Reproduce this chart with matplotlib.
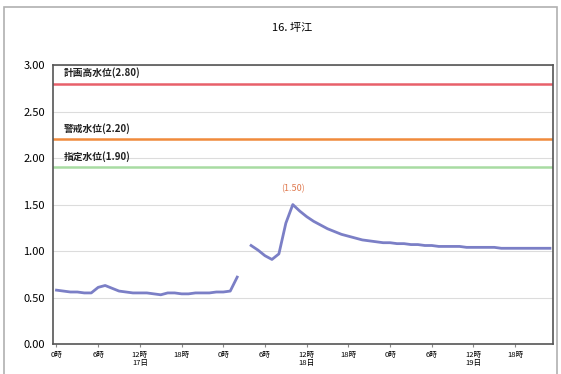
import numpy as np
import matplotlib
matplotlib.use("Agg")
import matplotlib.pyplot as plt
from matplotlib.patches import Rectangle

plt.rcParams['font.family'] = ['Noto Sans CJK JP', 'DejaVu Sans']

# 水位 (m), 1時間ごと 17日0時〜19日23時, 27時は欠測
hours = np.arange(72)
level = [0.58, 0.57, 0.56, 0.56, 0.55, 0.55, 0.61, 0.63, 0.60, 0.57, 0.56, 0.55,
         0.55, 0.55, 0.54, 0.53, 0.55, 0.55, 0.54, 0.54, 0.55, 0.55, 0.55, 0.56,
         0.56, 0.57, 0.72, np.nan, 1.06, 1.01, 0.95, 0.91, 0.97, 1.30, 1.50, 1.43,
         1.37, 1.32, 1.28, 1.24, 1.21, 1.18, 1.16, 1.14, 1.12, 1.11, 1.10, 1.09,
         1.09, 1.08, 1.08, 1.07, 1.07, 1.06, 1.06, 1.05, 1.05, 1.05, 1.05, 1.04,
         1.04, 1.04, 1.04, 1.04, 1.03, 1.03, 1.03, 1.03, 1.03, 1.03, 1.03, 1.03]

thresholds = [2.80, 2.20, 1.90]
threshold_names = ['計画高水位(2.80)', '警戒水位(2.20)', '指定水位(1.90)']
threshold_colors = ['#e8606a', '#f08a3c', '#a8dca2']

tick_pos = np.arange(0, 72, 6)
tick_labels = ['0時', '6時', '12時\n17日', '18時', '0時', '6時', '12時\n18日', '18時',
               '0時', '6時', '12時\n19日', '18時']

peak_label = '(1.50)'

fig = plt.figure(figsize=(5.61, 3.74), dpi=100)
fig.patches.append(Rectangle((0.008, -0.01), 0.984, 0.99, transform=fig.transFigure,
                             fill=False, edgecolor='#b0b0b0', linewidth=1.2))
ax = fig.add_axes([0.0945, 0.080, 0.892, 0.746])

for y in np.arange(0.5, 3.01, 0.5):
    ax.axhline(y, color='#dcdcdc', linewidth=0.8, zorder=0)

for val, name, col in zip(thresholds, threshold_names, threshold_colors):
    ax.axhline(val, color=col, linewidth=1.8, zorder=1)
    ax.text(1.0, val + 0.06, name, fontsize=7, color='#222222', va='bottom',
            fontweight='bold')

ax.plot(hours, level, color='#7b7fc6', linewidth=2, zorder=3)
i_peak = int(np.nanargmax(level))
ax.text(hours[i_peak], level[i_peak] + 0.12, peak_label, fontsize=6.5,
        color='#e07a50', ha='center', va='bottom')

ax.set_xlim(-0.5, 71.5)
ax.set_ylim(0, 3.0)
ax.set_yticks(np.arange(0, 3.01, 0.5))
ax.set_yticklabels([f'{v:.2f}' for v in np.arange(0, 3.01, 0.5)], fontsize=8)
ax.set_xticks(tick_pos)
ax.set_xticklabels(tick_labels, fontsize=5.5, linespacing=1.0)
ax.tick_params(axis='y', length=0, pad=6)
ax.tick_params(axis='x', length=2, color='#888888', pad=3)
for s in ax.spines.values():
    s.set_color('#555555')
    s.set_linewidth(1.2)

fig.text(0.52, 0.925, '16. 坪江', fontsize=8, ha='center', va='center')

fig.savefig('out.png', dpi=100)
